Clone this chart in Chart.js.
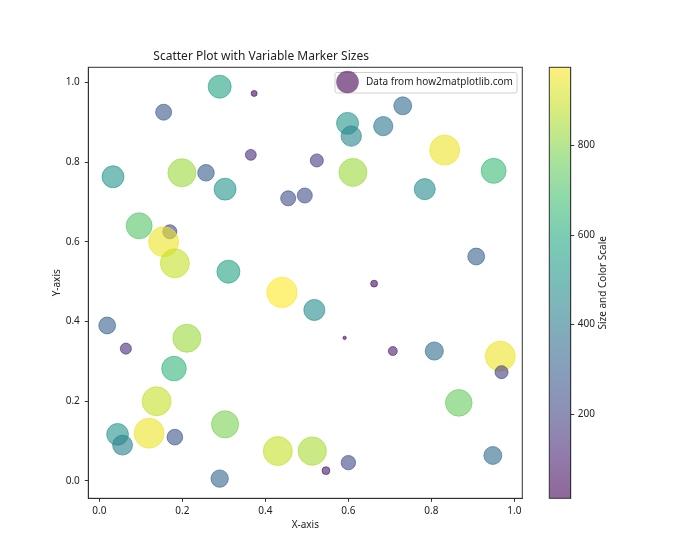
<!DOCTYPE html>
<html>
<head>
<meta charset="utf-8">
<script src="https://cdn.jsdelivr.net/npm/chart.js@4.4.1/dist/chart.umd.min.js"></script>
<style>
    html, body { margin: 0; padding: 0; background: #fff; }
    #wrap { position: relative; width: 700px; height: 560px; }
    #wrap canvas { position: absolute; left: 0; top: 0; }
</style>
</head>
<body>
<div id="wrap">
    <canvas id="scatter" width="700" height="560"></canvas>
    <canvas id="colorbar" width="700" height="560"></canvas>
</div>
<script>
// --- Data ---
const xValues = [0.290, 0.373, 0.155, 0.365, 0.199, 0.257, 0.033, 0.303, 0.455, 0.495,
                 0.096, 0.170, 0.155, 0.182, 0.311, 0.731, 0.598, 0.607, 0.684, 0.832,
                 0.524, 0.611, 0.950, 0.784, 0.908, 0.440, 0.518, 0.019, 0.064, 0.211,
                 0.180, 0.138, 0.044, 0.056, 0.120, 0.182, 0.303, 0.290, 0.430, 0.513,
                 0.662, 0.591, 0.707, 0.807, 0.966, 0.969, 0.866, 0.600, 0.546, 0.948];
const yValues = [0.989, 0.972, 0.925, 0.818, 0.773, 0.773, 0.763, 0.732, 0.709, 0.716,
                 0.640, 0.625, 0.600, 0.546, 0.525, 0.941, 0.897, 0.865, 0.890, 0.830,
                 0.804, 0.774, 0.778, 0.732, 0.563, 0.473, 0.429, 0.390, 0.332, 0.358,
                 0.282, 0.200, 0.117, 0.090, 0.120, 0.110, 0.142, 0.006, 0.075, 0.075,
                 0.495, 0.359, 0.326, 0.326, 0.313, 0.273, 0.196, 0.046, 0.026, 0.064];
const sizes   = [560, 38, 270, 125, 830, 290, 510, 510, 240, 240,
                 715, 210, 950, 890, 560, 340, 510, 440, 390, 950,
                 180, 830, 660, 470, 300, 975, 470, 300, 130, 830,
                 640, 890, 500, 420, 950, 260, 780, 320, 890, 850,
                 50, 12, 85, 350, 950, 180, 750, 220, 65, 340];

const xTicks = [0.0, 0.2, 0.4, 0.6, 0.8, 1.0];
const yTicks = [0.0, 0.2, 0.4, 0.6, 0.8, 1.0];
const colorbarTicks = [200, 400, 600, 800];

const chartTitle = 'Scatter Plot with Variable Marker Sizes';
const xLabel = 'X-axis';
const yLabel = 'Y-axis';
const colorbarLabel = 'Size and Color Scale';
const legendLabel = 'Data from how2matplotlib.com';

// --- Look ---
const FONT = "'Noto Sans', 'DejaVu Sans', sans-serif";
const TEXT = '#222';
const AXIS = '#333';
const ALPHA = 0.6;
const PT = 70 / 72 / 2; // marker area (pt^2) -> radius in px

Chart.defaults.font.family = FONT;
Chart.defaults.color = TEXT;

const sizeMin = Math.min(...sizes);
const sizeMax = Math.max(...sizes);
const norm = s => (s - sizeMin) / (sizeMax - sizeMin);

const VIRIDIS = ['#440154', '#482475', '#414487', '#355f8d', '#2a788e', '#21918c',
                 '#22a884', '#44bf70', '#7ad151', '#bddf26', '#fde725'];

function viridis(t, a) {
    t = Math.max(0, Math.min(1, t));
    const p = t * (VIRIDIS.length - 1);
    const i = Math.min(Math.floor(p), VIRIDIS.length - 2);
    const f = p - i;
    const c0 = parseInt(VIRIDIS[i].slice(1), 16);
    const c1 = parseInt(VIRIDIS[i + 1].slice(1), 16);
    const ch = sh => Math.round(((c0 >> sh) & 255) * (1 - f) + ((c1 >> sh) & 255) * f);
    return `rgba(${ch(16)},${ch(8)},${ch(0)},${a})`;
}

const fixedTicks = list => scale => { scale.ticks = list.map(v => ({ value: v })); };

// рамка вокруг области графика (все четыре стороны)
const framePlugin = {
    id: 'frame',
    afterDatasetsDraw(chart) {
        const { ctx, chartArea: a } = chart;
        ctx.save();
        ctx.strokeStyle = AXIS;
        ctx.lineWidth = 1;
        ctx.strokeRect(a.left, a.top, a.right - a.left, a.bottom - a.top);
        ctx.restore();
    }
};

// легенда в правом верхнем углу
const legendBoxPlugin = {
    id: 'legendBox',
    afterDraw(chart) {
        const ctx = chart.ctx;
        const x = 335, y = 72.5, w = 182, h = 20.5;
        ctx.save();
        ctx.fillStyle = 'rgba(255,255,255,0.8)';
        ctx.strokeStyle = '#d0d0d0';
        ctx.lineWidth = 1;
        ctx.beginPath();
        ctx.roundRect(x, y, w, h, 2);
        ctx.fill();
        ctx.stroke();
        const r = Math.sqrt((sizeMin + sizeMax) / 2) * PT;
        ctx.fillStyle = viridis(0, ALPHA);
        ctx.beginPath();
        ctx.arc(347.5, 82, r + 0.5, 0, Math.PI * 2);
        ctx.fill();
        ctx.fillStyle = TEXT;
        ctx.font = `10px ${FONT}`;
        ctx.textAlign = 'left';
        ctx.textBaseline = 'middle';
        ctx.fillText(legendLabel, 366, 82.5);
        ctx.restore();
    }
};

new Chart(document.getElementById('scatter'), {
    type: 'bubble',
    data: {
        datasets: [{
            label: legendLabel,
            data: xValues.map((x, i) => ({ x: x, y: yValues[i], r: Math.sqrt(sizes[i]) * PT })),
            backgroundColor: ctx => viridis(norm(sizes[ctx.dataIndex]), ALPHA),
            borderColor: ctx => viridis(norm(sizes[ctx.dataIndex]), ALPHA),
            borderWidth: 1
        }]
    },
    options: {
        responsive: false,
        animation: false,
        events: [],
        layout: { padding: { left: 0, right: 177.7, top: 0, bottom: 0 } },
        plugins: {
            legend: { display: false },
            tooltip: { enabled: false },
            title: {
                display: true,
                text: chartTitle,
                color: TEXT,
                font: { size: 12, weight: 'normal' },
                padding: { top: 49.5, bottom: 3.4 }
            }
        },
        scales: {
            x: {
                type: 'linear',
                position: 'bottom',
                min: -0.0265,
                max: 1.019,
                afterBuildTicks: fixedTicks(xTicks),
                afterFit: s => { s.height = 61.7; },
                ticks: { callback: v => v.toFixed(1), padding: 3, font: { size: 10 }, color: TEXT, maxRotation: 0 },
                grid: { drawOnChartArea: false, tickLength: 3.5, color: AXIS },
                border: { display: true, color: AXIS, width: 1 },
                title: { display: true, text: xLabel, color: TEXT, font: { size: 10 }, padding: { top: 0, bottom: 28.5 } }
            },
            y: {
                type: 'linear',
                position: 'left',
                min: -0.0434,
                max: 1.0376,
                afterBuildTicks: fixedTicks(yTicks),
                afterFit: s => { s.width = 88.3; },
                ticks: { callback: v => v.toFixed(1), padding: 5, font: { size: 10 }, color: TEXT },
                grid: { drawOnChartArea: false, tickLength: 3.5, color: AXIS },
                border: { display: true, color: AXIS, width: 1 },
                title: { display: true, text: yLabel, color: TEXT, font: { size: 10 }, padding: { top: 51, bottom: 0 } }
            }
        }
    },
    plugins: [framePlugin, legendBoxPlugin]
});

// --- Colorbar: отдельный график с одной "плавающей" колонкой ---
const colorbarLabelPlugin = {
    id: 'cbLabel',
    afterDraw(chart) {
        const { ctx, chartArea: a } = chart;
        ctx.save();
        ctx.translate(603, (a.top + a.bottom) / 2);
        ctx.rotate(-Math.PI / 2);
        ctx.fillStyle = TEXT;
        ctx.font = `10px ${FONT}`;
        ctx.textAlign = 'center';
        ctx.textBaseline = 'middle';
        ctx.fillText(colorbarLabel, 0, 0);
        ctx.restore();
    }
};

new Chart(document.getElementById('colorbar'), {
    type: 'bar',
    data: {
        labels: [''],
        datasets: [{
            data: [[sizeMin, sizeMax]],
            backgroundColor: ctx => {
                const a = ctx.chart.chartArea;
                if (!a) return null;
                const g = ctx.chart.ctx.createLinearGradient(0, a.bottom, 0, a.top);
                for (let i = 0; i <= 20; i++) g.addColorStop(i / 20, viridis(i / 20, ALPHA));
                return g;
            },
            borderWidth: 0,
            barPercentage: 1,
            categoryPercentage: 1
        }]
    },
    options: {
        responsive: false,
        animation: false,
        events: [],
        layout: { padding: { left: 549.3, right: 69.3, top: 67.3, bottom: 61.7 } },
        plugins: { legend: { display: false }, tooltip: { enabled: false } },
        scales: {
            x: { display: false },
            y: {
                type: 'linear',
                position: 'right',
                min: sizeMin,
                max: sizeMax,
                afterBuildTicks: fixedTicks(colorbarTicks),
                afterFit: s => { s.width = 60; },
                ticks: { padding: 3.5, font: { size: 10 }, color: TEXT },
                grid: { drawOnChartArea: false, tickLength: 3.5, color: AXIS },
                border: { display: true, color: AXIS, width: 1 }
            }
        }
    },
    plugins: [framePlugin, colorbarLabelPlugin]
});
</script>
</body>
</html>
